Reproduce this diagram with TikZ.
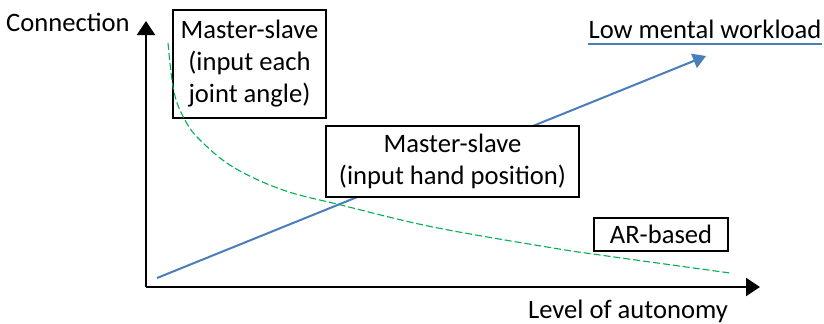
\documentclass[tikz,border=0pt]{standalone}
\usepackage{fontspec}
\setmainfont{Carlito}
\usetikzlibrary{arrows.meta,positioning}
\definecolor{lineblue}{RGB}{74,126,187}
\definecolor{curvegreen}{RGB}{0,176,80}
\tikzstyle{mode} = [rectangle, draw, line width=0.8pt, align=center, inner sep=0pt]
\tikzstyle{axis} = [-{Triangle[length=7pt,width=9pt]}, line width=1pt]
\tikzstyle{trend} = [-{Triangle[length=6.5pt,width=7.5pt]}, line width=1pt, draw=lineblue, fill=lineblue]
\tikzstyle{connection curve} = [curvegreen, line width=0.55pt, dash pattern=on 3.5pt off 1.5pt]
\tikzstyle{underline} = [lineblue, line width=0.9pt]

\begin{document}
\begin{tikzpicture}[x=0.5pt, y=-0.5pt, every node/.style={font=\fontsize{13.3}{16}\selectfont}]
\useasboundingbox (0,0) rectangle (824,323);

% Axes
\coordinate (origin) at (146,287);
\coordinate (ytip) at (146,21);
\coordinate (xtip) at (760,287);
\draw[axis] (origin) -- (ytip);
\draw[axis] (origin) -- (xtip);

% Axis labels
\node[anchor=base east, inner sep=0pt] (connection) at (130,31) {Connection};
\node[anchor=base, inner sep=0pt] (autonomy) at (628,318) {Level of autonomy};

% Mental workload trend
\node[anchor=base, inner xsep=0pt, inner ysep=2.5pt] (workload) at (705,38) {Low mental workload};
\draw[underline] (workload.south west) -- (workload.south east);
\coordinate (trendstart) at (157,278);
\coordinate (trendend) at (706,56);
\draw[trend] (trendstart) -- (trendend);

% Modes
\node[mode, fill=white, minimum width=126.5pt, minimum height=35.5pt] (handpos) at (452.5,161.5) {Master-slave\\(input hand position)};
\node[mode, fill=white, minimum width=67pt, minimum height=16.5pt] (arbased) at (661,234.5) {AR-based};
\node[mode, minimum width=76.5pt, minimum height=54pt] (jointangle) at (249.5,64) {Master-slave\\(input each\\joint angle)};

% Connection curve
\draw[connection curve] plot[smooth, tension=0.6] coordinates {(168,43) (174,92) (185,120) (200,140) (233,167) (283,190) (341,205) (433,227) (547,247) (600,255) (730,273)};

\end{tikzpicture}
\end{document}
